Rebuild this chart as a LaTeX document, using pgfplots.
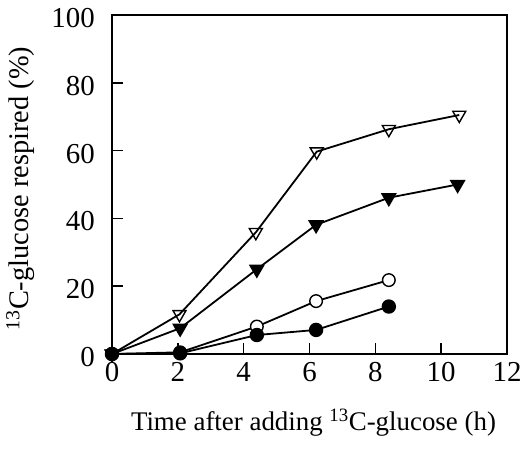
\documentclass[border=0pt]{standalone}
\usepackage{fontspec}
\setmainfont{Liberation Serif}
\usepackage{pgfplots}
\pgfplotsset{compat=1.18}
\begin{document}
\begin{tikzpicture}
\begin{axis}[
  scale only axis,
  width=395bp, height=339bp,
  xmin=0, xmax=12, ymin=0, ymax=100,
  xtick={0,2,...,12}, ytick={0,20,...,100},
  tick align=inside,
  xtick pos=bottom, ytick pos=left,
  major tick length=11bp,
  axis line style={line width=2.2bp},
  tick style={line width=1.6bp, black},
  /pgf/number format/assume math mode=true,
  tick label style={font=\fontsize{29}{32}\selectfont, inner sep=0pt},
  xticklabel style={anchor=north, yshift=-8bp},
  yticklabel style={anchor=east, xshift=-17bp, yshift=-3bp},
  xlabel={Time after adding \textsuperscript{13}C-glucose (h)},
  ylabel={\textsuperscript{13}C-glucose respired (\%)},
  xlabel style={font=\fontsize{27}{30}\selectfont, inner sep=0pt, at={(axis description cs:0.5,0)}, anchor=base, yshift=-76bp, xshift=4bp},
  ylabel style={font=\fontsize{28.5}{31}\selectfont, inner sep=0pt, at={(axis description cs:0,0.5)}, anchor=north, yshift=106bp, xshift=-4bp},
  every axis plot/.append style={black, line width=1.8bp},
  clip=false,
]
\addplot[mark=triangle, mark size=7.5bp, mark options={rotate=180, fill=white, line width=1.4bp}]
  coordinates {(0,0) (2.05,11.7) (4.37,35.9) (6.22,59.7) (8.41,66.3) (10.55,70.5)};
\addplot[mark=triangle*, mark size=7.5bp, mark options={rotate=180, fill=black}]
  coordinates {(0,0) (2.07,7.6) (4.4,25.0) (6.2,38.1) (8.41,46.1) (10.5,50.0)};
\addplot[mark=*, mark size=6.3bp, mark options={fill=white, line width=1.4bp}]
  coordinates {(0,0) (2.07,0.5) (4.4,8.1) (6.2,15.6) (8.41,21.8)};
\addplot[mark=*, mark size=6.3bp, mark options={fill=black}]
  coordinates {(0,0) (2.07,0.2) (4.4,5.6) (6.2,7.1) (8.41,14.0)};
\end{axis}
\pgfresetboundingbox
\path ([shift={(-112bp,-95bp)}]current axis.south west) rectangle ([shift={(16bp,15bp)}]current axis.north east);
\end{tikzpicture}
\end{document}
